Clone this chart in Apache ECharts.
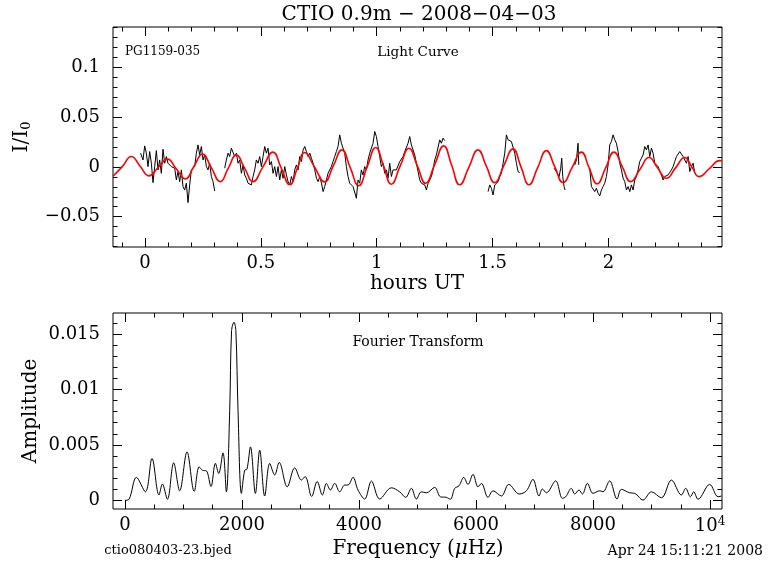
<!DOCTYPE html>
<html><head><meta charset="utf-8">
<script src="https://cdn.jsdelivr.net/npm/echarts@6/dist/echarts.min.js"></script>
<style>html,body{margin:0;padding:0;background:#fff}#c{width:768px;height:574px}</style>
</head><body><div id="c"></div>
<script>
const FONT = 'DejaVu Serif';

// ---- tick labels ----
const hourTicks = [0, 0.5, 1, 1.5, 2];
const fluxTicks = [-0.05, 0, 0.05, 0.1];
const freqTicks = [0, 2000, 4000, 6000, 8000, 10000];
const ampTicks = [0, 0.005, 0.01, 0.015];

// ---- light curve segments [hours UT, I/I0] ----
const lcSeg1 = [[-0.019,0.0138],[-0.0085,0.0070],[-0.0013,0.0211],[0.0059,0.0138],[0.0131,0.0003],[0.0203,0.0154],[0.0275,0.0037],[0.0347,-0.0158],[0.0419,0.0003],[0.0491,0.0164],[0.0562,-0.0030],[0.0634,0.0070],[0.0706,-0.0064],[0.0778,0.0178],[0.0850,0.0037],[0.0922,0.0104],[0.0994,0.0037],[0.1066,0.0020],[0.1138,0.0003],[0.1210,0.0020],[0.1282,-0.0013],[0.1354,-0.0131],[0.1426,-0.0047],[0.1498,-0.0148],[0.1570,-0.0030],[0.1641,-0.0198],[0.1713,-0.0232],[0.1785,-0.0164],[0.1857,-0.0359],[0.1929,-0.0181],[0.2001,-0.0030],[0.2073,-0.0047],[0.2145,0.0003],[0.2217,0.0138],[0.2289,0.0221],[0.2361,0.0121],[0.2433,0.0205],[0.2505,0.0070],[0.2577,0.0121],[0.2649,0.0003],[0.2720,-0.0030],[0.2792,0.0037],[0.2864,-0.0097],[0.2936,-0.0148],[0.3008,-0.0242]];
const lcSeg2 = [[0.3440,-0.0013],[0.3512,0.0070],[0.3584,0.0138],[0.3656,0.0104],[0.3728,0.0188],[0.3800,0.0178],[0.3872,0.0104],[0.3944,0.0138],[0.4016,0.0037],[0.4088,0.0070],[0.4160,-0.0064],[0.4232,0.0020],[0.4303,-0.0081],[0.4375,-0.0114],[0.4447,-0.0164],[0.4519,-0.0181],[0.4591,-0.0181],[0.4663,-0.0097],[0.4735,-0.0030],[0.4807,0.0070],[0.4879,0.0037],[0.4951,0.0104],[0.5023,0.0003],[0.5095,0.0104],[0.5167,0.0205],[0.5239,0.0138],[0.5311,0.0188],[0.5383,0.0020],[0.5455,0.0054],[0.5527,-0.0064],[0.5599,0.0003],[0.5671,-0.0097],[0.5743,0.0003],[0.5815,-0.0131],[0.5887,-0.0030],[0.5959,-0.0114],[0.6031,0.0003],[0.6103,-0.0081],[0.6175,-0.0148],[0.6247,-0.0181],[0.6319,-0.0097],[0.6391,-0.0148],[0.6463,-0.0030],[0.6535,0.0020],[0.6607,-0.0030],[0.6679,0.0104],[0.6751,0.0054],[0.6823,0.0171],[0.6895,0.0205],[0.6967,0.0154],[0.7039,0.0104],[0.7111,0.0138],[0.7183,0.0087],[0.7255,0.0037],[0.7327,-0.0030],[0.7399,-0.0114],[0.7471,-0.0148],[0.7543,-0.0097],[0.7615,-0.0164],[0.7687,-0.0248],[0.7756,-0.0198],[0.7828,-0.0131],[0.7900,-0.0064],[0.7971,-0.0030],[0.8043,0.0003],[0.8115,0.0054],[0.8187,0.0104],[0.8259,0.0154],[0.8331,0.0205],[0.8403,0.0322],[0.8475,0.0238],[0.8547,0.0255],[0.8619,0.0138],[0.8691,0.0003],[0.8763,-0.0097],[0.8835,-0.0164],[0.8907,-0.0148],[0.8979,-0.0198],[0.9051,-0.0181],[0.9123,-0.0315],[0.9194,-0.0131],[0.9266,-0.0164],[0.9338,-0.0030],[0.9410,-0.0081],[0.9482,0.0003],[0.9554,-0.0030],[0.9626,0.0070],[0.9698,0.0138],[0.9770,0.0121],[0.9842,0.0238],[0.9914,0.0356],[0.9986,0.0305],[1.0057,0.0205],[1.0129,0.0104],[1.0201,0.0003],[1.0273,0.0037],[1.0345,-0.0064],[1.0417,-0.0030],[1.0489,-0.0114],[1.0561,0.0037],[1.0633,-0.0097],[1.0705,-0.0030],[1.0777,-0.0047],[1.0849,-0.0030],[1.0921,-0.0013],[1.0993,0.0054],[1.1065,0.0070],[1.1137,0.0104],[1.1209,0.0154],[1.1280,0.0138],[1.1352,0.0238],[1.1424,0.0305],[1.1496,0.0221],[1.1568,0.0238],[1.1640,0.0121],[1.1712,0.0037],[1.1784,-0.0047],[1.1856,-0.0131],[1.1928,-0.0164],[1.2000,-0.0148],[1.2072,-0.0181],[1.2144,-0.0232],[1.2216,-0.0164],[1.2288,-0.0131],[1.2360,-0.0097],[1.2431,-0.0030],[1.2503,0.0070],[1.2575,0.0121],[1.2647,0.0138],[1.2719,0.0272],[1.2791,0.0238],[1.2863,0.0289],[1.2935,0.0265]];
const lcSeg3 = [[1.4805,-0.0248],[1.4877,-0.0181],[1.4949,-0.0215],[1.5021,-0.0282],[1.5093,-0.0181],[1.5165,-0.0198],[1.5237,-0.0148],[1.5309,-0.0097],[1.5381,-0.0064],[1.5453,0.0037],[1.5525,0.0138],[1.5597,0.0322],[1.5668,0.0272],[1.5740,0.0289],[1.5812,0.0255],[1.5884,0.0272],[1.5956,0.0138],[1.6028,0.0037],[1.6100,-0.0047],[1.6172,-0.0060]];
const lcSeg4 = [[1.7654,-0.0013],[1.7726,-0.0030],[1.7798,-0.0064],[1.7869,-0.0097],[1.7941,-0.0013],[1.7984,0.0087],[1.8027,-0.0097],[1.8085,-0.0198],[1.8128,-0.0232]];
const lcSeg5 = [[1.8546,0.0020],[1.8618,0.0070],[1.8689,0.0238],[1.8718,0.0020]];
const lcSeg6 = [[1.9193,-0.0013],[1.9265,-0.0198],[1.9337,-0.0215],[1.9409,-0.0248],[1.9481,-0.0215],[1.9553,-0.0265],[1.9625,-0.0292],[1.9697,-0.0232],[1.9768,-0.0198],[1.9840,-0.0164],[1.9912,-0.0097],[1.9984,0.0020],[2.0056,0.0221],[2.0128,0.0255],[2.0200,0.0322],[2.0272,0.0272],[2.0344,0.0238],[2.0416,0.0154],[2.0488,0.0037],[2.0560,-0.0030],[2.0632,-0.0114],[2.0704,-0.0148],[2.0776,-0.0232],[2.0848,-0.0198],[2.0920,-0.0248],[2.0991,-0.0181],[2.1063,-0.0232],[2.1135,-0.0131],[2.1207,-0.0097],[2.1279,-0.0030],[2.1351,0.0054],[2.1423,0.0087],[2.1495,0.0121],[2.1567,0.0205],[2.1639,0.0171],[2.1711,0.0221],[2.1783,0.0104],[2.1855,0.0188],[2.1926,0.0138],[2.1998,0.0037],[2.2070,0.0054],[2.2142,0.0003],[2.2214,-0.0047],[2.2286,-0.0081],[2.2358,-0.0131],[2.2430,-0.0097],[2.2502,-0.0114],[2.2574,-0.0081],[2.2646,-0.0064],[2.2718,-0.0030],[2.2790,0.0003],[2.2861,0.0054],[2.2933,0.0104],[2.3005,0.0121],[2.3077,0.0154],[2.3149,0.0138],[2.3221,0.0104],[2.3293,0.0121],[2.3365,0.0037],[2.3437,0.0104],[2.3509,-0.0047],[2.3581,0.0003],[2.3653,0.0037],[2.3725,-0.0064]];

// ---- multi-sine fit (red) [hours UT, I/I0] ----
const fitCurve = [[-0.138,-0.0094],[-0.135,-0.0095],[-0.097,0.0005],[-0.059,0.0104],[-0.021,0.0007],[0.017,-0.0090],[0.057,-0.0006],[0.097,0.0078],[0.1355,-0.0021],[0.174,-0.0120],[0.211,0.0004],[0.248,0.0128],[0.2865,-0.0010],[0.325,-0.0148],[0.3595,-0.0013],[0.394,0.0121],[0.430,-0.0013],[0.466,-0.0148],[0.509,0.0000],[0.552,0.0148],[0.5885,-0.0016],[0.625,-0.0180],[0.657,-0.0018],[0.689,0.0144],[0.732,-0.0003],[0.775,-0.0150],[0.8125,0.0010],[0.850,0.0171],[0.886,-0.0010],[0.922,-0.0190],[0.959,0.0003],[0.996,0.0195],[1.0295,0.0010],[1.063,-0.0175],[1.101,0.0007],[1.139,0.0188],[1.175,0.0012],[1.211,-0.0165],[1.250,0.0023],[1.289,0.0211],[1.3235,0.0016],[1.358,-0.0180],[1.3975,-0.0005],[1.437,0.0171],[1.473,0.0007],[1.509,-0.0158],[1.5485,0.0012],[1.588,0.0181],[1.6225,0.0001],[1.657,-0.0180],[1.6945,-0.0008],[1.732,0.0164],[1.768,0.0003],[1.804,-0.0158],[1.8435,-0.0005],[1.883,0.0148],[1.917,-0.0012],[1.951,-0.0171],[1.9875,-0.0012],[2.024,0.0148],[2.060,0.0000],[2.096,-0.0148],[2.1355,-0.0027],[2.175,0.0094],[2.2125,-0.0010],[2.250,-0.0114],[2.2895,-0.0010],[2.329,0.0094],[2.360,-0.0002],[2.391,-0.0098],[2.4355,-0.0018],[2.480,0.0063],[2.490,0.0061]];

// ---- amplitude spectrum [frequency uHz, amplitude] ----
const spectrum = [[0,0.0000],[70,0.0001],[195,0.00207],[349,0.00077],[462,0.00378],[581,0.00048],[639,0.00147],[725,0.00010],[832,0.00338],[935,0.00086],[1060,0.00437],[1183,0.00080],[1268,0.00302],[1328,0.00270],[1391,0.00266],[1470,0.00125],[1545,0.00333],[1602,0.00243],[1675,0.00428],[1733,0.00077],[1790,0.00812],[1822,0.01530],[1863,0.01606],[1895,0.01530],[1932,0.00812],[1990,0.00063],[2046,0.00272],[2085,0.00280],[2145,0.00482],[2229,0.00063],[2303,0.00452],[2388,0.00039],[2474,0.00333],[2559,0.00228],[2636,0.00342],[2773,0.00122],[2901,0.00293],[3015,0.00183],[3080,0.00215],[3191,0.00035],[3285,0.00170],[3374,0.00048],[3443,0.00153],[3511,0.00093],[3585,0.00153],[3670,0.00077],[3756,0.00138],[3812,0.00138],[3897,0.00207],[3983,0.00093],[4097,0.00012],[4212,0.00174],[4354,0.00012],[4554,0.00113],[4696,0.00077],[4798,0.00027],[4896,0.00108],[4981,0.00012],[5067,0.00077],[5152,0.00068],[5294,0.00117],[5391,0.00032],[5494,0.00027],[5562,0.00010],[5636,0.00108],[5709,0.00131],[5790,0.00207],[5863,0.00144],[5949,0.00234],[6034,0.00122],[6092,0.00153],[6205,0.00027],[6291,0.00086],[6434,0.00039],[6560,0.00144],[6740,0.00057],[6862,0.00086],[6974,0.00189],[7077,0.00039],[7135,0.00102],[7203,0.00068],[7362,0.00176],[7477,0.00018],[7533,0.00032],[7631,0.00108],[7687,0.00057],[7761,0.00093],[7819,0.00057],[7904,0.00153],[8000,0.00063],[8115,0.00086],[8171,0.00077],[8285,0.00176],[8410,0.00012],[8485,0.00099],[8627,0.00068],[8712,0.00063],[8855,0.00003],[8998,0.00077],[9169,0.00023],[9340,0.00183],[9511,0.00048],[9585,0.00108],[9665,0.00032],[9721,0.00077],[9795,0.00010],[9995,0.00144],[10137,0.00032],[10195,0.00039]];

// ---- helpers ----
function minorTicks(kFrom, kTo, step, every) {
  const out = [];
  for (let k = kFrom; k <= kTo; k++) if (k % every !== 0) out.push(+(k * step).toFixed(6));
  return out;
}
const hourMinor = minorTicks(-1, 24, 0.1, 5);
const fluxMinor = minorTicks(-8, 14, 0.01, 5);
const freqMinor = minorTicks(1, 20, 500, 4);
const ampMinor = minorTicks(0, 16, 0.001, 5);

function joinSegments(segs) {
  const out = [];
  segs.forEach((s, i) => { if (i) out.push([s[0][0], '-']); s.forEach(p => out.push(p)); });
  return out;
}

const labelRich = { sup: { fontSize: 12, fontFamily: FONT, color: '#000', verticalAlign: 'top', padding: [0, 0, 8, 0] } };

function axisSet(kind, grid, min, max, major, minor, fmt, margin) {
  const pos = kind === 'x' ? ['bottom', 'top'] : ['left', 'right'];
  const arr = [];
  pos.forEach((p, pi) => {
    [[major, 9], [minor, 4.5]].forEach(([vals, len], mi) => {
      arr.push({
        type: 'value', gridIndex: grid, min: min, max: max, position: p, offset: 0,
        axisLine: { show: false, onZero: false }, splitLine: { show: false }, minorTick: { show: false },
        axisTick: { show: true, inside: true, length: len, customValues: vals, lineStyle: { color: '#000', width: 1 } },
        axisLabel: { show: pi === 0 && mi === 0, customValues: vals, formatter: fmt, color: '#000',
          fontFamily: FONT, fontSize: 18, margin: margin, rich: labelRich }
      });
    });
  });
  return arr;
}

const numFmt = v => String(v).replace('-', '\u2212');
const freqFmt = v => v === 10000 ? '10{sup|4}' : String(v);

const xAxes = [].concat(
  axisSet('x', 0, -0.138, 2.490, hourTicks, hourMinor, numFmt, 7),
  axisSet('x', 1, -205, 10205, freqTicks, freqMinor, freqFmt, 7)
);
const yAxes = [].concat(
  axisSet('y', 0, -0.0805, 0.1406, fluxTicks, fluxMinor, numFmt, 13),
  axisSet('y', 1, -0.00078, 0.01689, ampTicks, ampMinor, numFmt, 13)
);

function txt(text, x, y, size, align, extra) {
  return Object.assign({
    type: 'text', x: x, y: y, silent: true,
    style: Object.assign({ text: text, fill: '#000', fontFamily: FONT, fontSize: size,
      textAlign: align, align: align, textVerticalAlign: 'middle', verticalAlign: 'middle' }, (extra && extra.style) || {})
  }, extra && extra.el || {});
}

const chart = echarts.init(document.getElementById('c'), null, { renderer: 'canvas' });
chart.setOption({
  animation: false,
  backgroundColor: '#fff',
  grid: [
    { left: 113, top: 27, width: 609, height: 220, show: true, borderColor: '#000', borderWidth: 1, backgroundColor: 'transparent', containLabel: false, outerBoundsMode: 'none' },
    { left: 113, top: 313, width: 609, height: 196, show: true, borderColor: '#000', borderWidth: 1, backgroundColor: 'transparent', containLabel: false, outerBoundsMode: 'none' }
  ],
  xAxis: xAxes,
  yAxis: yAxes,
  series: [
    { type: 'line', xAxisIndex: 0, yAxisIndex: 0, data: joinSegments([lcSeg1, lcSeg2, lcSeg3, lcSeg4, lcSeg5, lcSeg6]),
      showSymbol: false, symbol: 'none', connectNulls: false, lineStyle: { color: '#000', width: 1 }, z: 2 },
    { type: 'line', xAxisIndex: 0, yAxisIndex: 0, data: fitCurve, smooth: 0.5,
      showSymbol: false, symbol: 'none', lineStyle: { color: '#ff0000', width: 1.6 }, z: 3 },
    { type: 'line', xAxisIndex: 4, yAxisIndex: 4, data: spectrum, smooth: 0.35,
      showSymbol: false, symbol: 'none', lineStyle: { color: '#000', width: 1 }, z: 2 }
  ],
  graphic: [
    txt('CTIO 0.9m \u2212 2008\u221204\u221203', 419, 15, 20, 'center'),
    txt('hours UT', 417, 284, 20, 'center'),
    txt('Frequency ({it|\u03bc}Hz)', 418, 549, 20, 'center', { style: { rich: { it: { fontStyle: 'italic', fontFamily: FONT, fontSize: 20, fill: '#000' } } } }),
    txt('I/I{sub|0}', 22, 137, 20, 'center', { el: { rotation: Math.PI / 2 }, style: { rich: { sub: { fontSize: 13, fontFamily: FONT, fill: '#000', padding: [10, 0, 0, 0] } } } }),
    txt('Amplitude', 31, 411, 20, 'center', { el: { rotation: Math.PI / 2 } }),
    txt('PG1159-035', 125, 52, 12, 'left'),
    txt('Light Curve', 418, 52, 13.5, 'center'),
    txt('Fourier Transform', 418, 342, 14, 'center'),
    txt('ctio080403-23.bjed', 168, 551, 13, 'center'),
    txt('Apr 24 15:11:21 2008', 763, 551, 14, 'right')
  ]
});
</script></body></html>
